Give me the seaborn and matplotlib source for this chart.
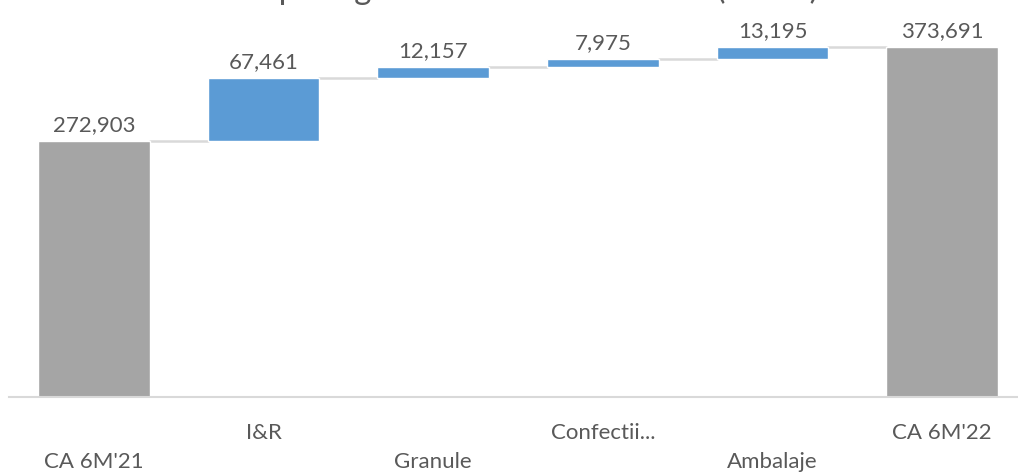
import numpy as np
import pandas as pd
import matplotlib
matplotlib.use("Agg")
import matplotlib.pyplot as plt
import seaborn as sns

# Data
categories = ["CA 6M'21", "I&R", "Granule", "Confectii...", "Ambalaje", "CA 6M'22"]
changes = [272903, 67461, 12157, 7975, 13195, 373691]
is_total = [True, False, False, False, False, True]
title = "Vanzari pe segmente 6M'22 vs 6M'21 (mii lei)"

# waterfall geometry
bottoms, tops = [], []
running = 0
for v, tot in zip(changes, is_total):
    if tot:
        bottoms.append(0)
        tops.append(v)
        running = v
    else:
        bottoms.append(running)
        running += v
        tops.append(running)

df = pd.DataFrame({"cat": categories, "height": changes, "bottom": bottoms, "total": is_total})
tot_df = df[df["total"]]
delta_df = df[~df["total"]]

sns.set_style("white")
plt.rcParams["font.family"] = ["Lato", "DejaVu Sans"]
text_col = "#595959"

fig = plt.figure(figsize=(10.18, 4.73), dpi=100)
ax = fig.add_axes([9 / 1018, 76 / 473, 1018 / 1018, 375 / 473])

sns.barplot(data=tot_df, x="cat", y="height", order=categories, color="#A5A5A5",
            width=0.66, ax=ax, saturation=1)
sns.barplot(data=delta_df, x="cat", y="height", order=categories, color="#5B9BD5",
            bottom=delta_df["bottom"].values, width=0.66, ax=ax, saturation=1)

# connector lines
for i in range(len(categories) - 1):
    ax.plot([i + 0.33, i + 1 - 0.33], [tops[i], tops[i]], color="#D9D9D9", lw=1.8, zorder=0)

# value labels
for i, v in enumerate(changes):
    ax.text(i, tops[i] + 6000, f"{v:,}", ha="center", va="bottom",
            fontsize=16, color=text_col)

ax.set_ylim(0, 400000)
ax.set_xlim(-0.5, len(categories) - 0.5)
ax.set_yticks([])
ax.set_xlabel("")
ax.set_ylabel("")
labels = [("\n" + c) if i % 2 == 0 else c for i, c in enumerate(categories)]
ax.set_xticks(range(len(categories)))
ax.set_xticklabels(labels, fontsize=16, color=text_col, linespacing=1.55)
ax.tick_params(axis="x", length=0, pad=19)
for s in ["top", "right", "left"]:
    ax.spines[s].set_visible(False)
ax.spines["bottom"].set_color("#D9D9D9")
ax.spines["bottom"].set_linewidth(1.5)

fig.text(0.482, 1 + 1 / 473, title, ha="center", va="baseline", fontsize=23.7, color=text_col)

fig.savefig("out.png", dpi=100)
